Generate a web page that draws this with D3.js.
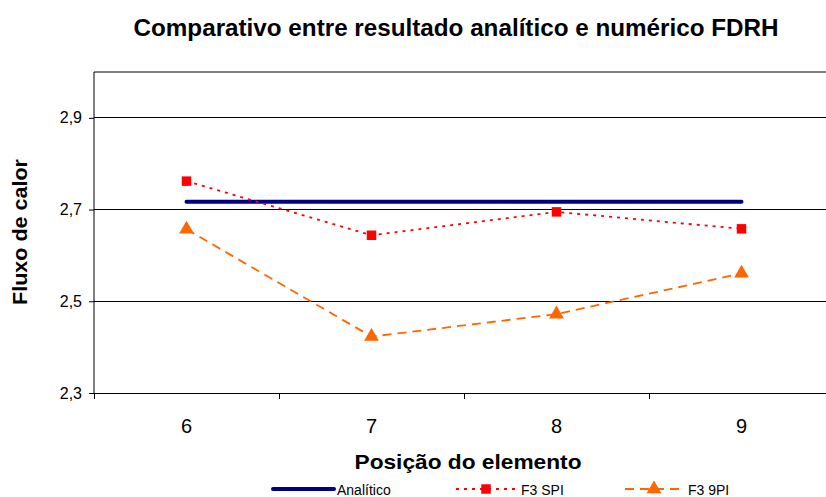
<!DOCTYPE html>
<html><head><meta charset="utf-8">
<script src="https://cdn.jsdelivr.net/npm/d3@7"></script>
<style>body{margin:0;background:#fff;font-family:"Liberation Sans",Arial,sans-serif;}</style>
</head><body><svg id="c" width="826" height="497"></svg>
<script>
const categories = [6, 7, 8, 9];
const analitico = [2.717, 2.717, 2.717, 2.717];
const f3spi = [2.762, 2.644, 2.695, 2.658];
const f39pi = [2.657, 2.423, 2.472, 2.561];
const yTicks = [2.3, 2.5, 2.7, 2.9];
const seriesNames = ["Analítico", "F3 SPI", "F3 9PI"];
const title = "Comparativo entre resultado analítico e numérico FDRH";
const xTitle = "Posição do elemento";
const yTitle = "Fluxo de calor";

const svg = d3.select("#c");
const L = 94, R = 834, T = 72, B = 393;
const x = d3.scaleBand().domain(categories).range([L, R]);
const y = d3.scaleLinear().domain([2.3, 3.0]).range([B, T]);
const fmt = v => d3.format(".1f")(v).replace(".", ",");

// gridlines
svg.append("g").selectAll("line").data(yTicks.filter(v => v > 2.3)).join("line")
  .attr("x1", L).attr("x2", 826).attr("y1", d => y(d)).attr("y2", d => y(d))
  .attr("stroke", "#000").attr("stroke-width", 1).attr("shape-rendering", "crispEdges");
// top border
svg.append("line").attr("x1", L).attr("x2", 826).attr("y1", y(3.0)).attr("y2", y(3.0))
  .attr("stroke", "#808080").attr("stroke-width", 1.5).attr("shape-rendering", "crispEdges");

// y axis
const yAxis = d3.axisLeft(y).tickValues(yTicks).tickSize(5).tickPadding(7).tickFormat(fmt);
const gy = svg.append("g").attr("transform", `translate(${L},0)`).call(yAxis);
gy.select(".domain").attr("d", `M0,${y(3.0)}V${B}`).attr("stroke", "#000");
gy.selectAll("text").attr("font-size", 16).attr("font-family", "Liberation Sans, Arial, sans-serif").attr("fill", "#000");
gy.selectAll("line").attr("stroke", "#000");

// x axis
const gx = svg.append("g").attr("transform", `translate(0,${B})`);
gx.append("line").attr("x1", L).attr("x2", 826).attr("y1", 0).attr("y2", 0).attr("stroke", "#000").attr("shape-rendering", "crispEdges");
gx.selectAll("line.tk").data(categories).join("line").attr("class", "tk")
  .attr("x1", d => x(d)).attr("x2", d => x(d)).attr("y1", 0).attr("y2", 6)
  .attr("stroke", "#000").attr("shape-rendering", "crispEdges");
gx.selectAll("text").data(categories).join("text")
  .attr("x", d => x(d) + x.bandwidth() / 2).attr("y", 40)
  .attr("text-anchor", "middle").attr("font-size", 20).text(d => d);

const cx = d => x(d) + x.bandwidth() / 2;
const line = d3.line().x((d, i) => cx(categories[i])).y(d => y(d));

svg.append("path").datum(analitico).attr("d", line).attr("fill", "none")
  .attr("stroke", "#000080").attr("stroke-width", 4).attr("stroke-linecap", "round");
svg.append("path").datum(f3spi).attr("d", line).attr("fill", "none")
  .attr("stroke", "#FF0000").attr("stroke-width", 1.8).attr("stroke-dasharray", "3,5");
svg.append("path").datum(f39pi).attr("d", line).attr("fill", "none")
  .attr("stroke", "#FF6600").attr("stroke-width", 1.8).attr("stroke-dasharray", "9,6");

const sq = d3.symbol().type(d3.symbolSquare).size(90);
const tri = d3.symbol().type(d3.symbolTriangle).size(95);
svg.append("g").selectAll("path").data(f3spi).join("path")
  .attr("d", sq).attr("transform", (d, i) => `translate(${cx(categories[i])},${y(d)})`).attr("fill", "#FF0000");
svg.append("g").selectAll("path").data(f39pi).join("path")
  .attr("d", tri).attr("transform", (d, i) => `translate(${cx(categories[i])},${y(d)})`).attr("fill", "#FF6600");

// titles
svg.append("text").attr("x", 456).attr("y", 36).attr("text-anchor", "middle")
  .attr("font-size", 23).attr("font-weight", "bold")
  .attr("textLength", 645).attr("lengthAdjust", "spacingAndGlyphs").text(title);
svg.append("text").attr("x", 468).attr("y", 469).attr("text-anchor", "middle")
  .attr("font-size", 21).attr("font-weight", "bold")
  .attr("textLength", 227).attr("lengthAdjust", "spacingAndGlyphs").text(xTitle);
svg.append("text").attr("transform", "translate(27,232) rotate(-90)").attr("text-anchor", "middle")
  .attr("font-size", 20).attr("font-weight", "bold")
  .attr("textLength", 146).attr("lengthAdjust", "spacingAndGlyphs").text(yTitle);

// legend
const lg = svg.append("g");
const ly = 489;
lg.append("line").attr("x1", 273).attr("x2", 334).attr("y1", ly).attr("y2", ly)
  .attr("stroke", "#000080").attr("stroke-width", 4).attr("stroke-linecap", "round");
lg.append("text").attr("x", 337).attr("y", 495).attr("font-size", 14).text(seriesNames[0]);
lg.append("line").attr("x1", 456).attr("x2", 517).attr("y1", ly).attr("y2", ly)
  .attr("stroke", "#FF0000").attr("stroke-width", 1.8).attr("stroke-dasharray", "3,5");
lg.append("path").attr("d", sq).attr("transform", `translate(486,${ly})`).attr("fill", "#FF0000");
lg.append("text").attr("x", 521).attr("y", 495).attr("font-size", 14).text(seriesNames[1]);
lg.append("line").attr("x1", 625).attr("x2", 685).attr("y1", ly).attr("y2", ly)
  .attr("stroke", "#FF6600").attr("stroke-width", 1.8).attr("stroke-dasharray", "9,6");
lg.append("path").attr("d", tri).attr("transform", `translate(654,${ly})`).attr("fill", "#FF6600");
lg.append("text").attr("x", 688).attr("y", 495).attr("font-size", 14).text(seriesNames[2]);
</script></body></html>
